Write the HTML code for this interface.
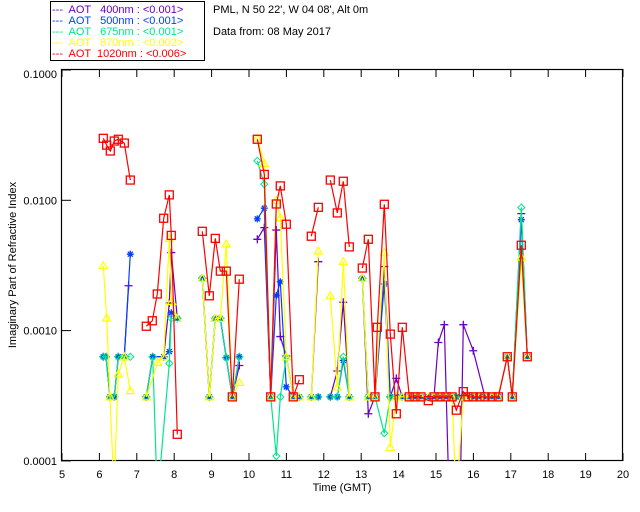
<!DOCTYPE html>
<html><head><meta charset="utf-8"><style>
html,body{margin:0;padding:0;background:#fff;}
svg{display:block;font-family:"Liberation Sans",sans-serif;}
</style></head><body>
<svg id="chart" width="640" height="512" viewBox="0 0 640 512">
<rect x="0" y="0" width="640" height="512" fill="#fff"/>
<g>
<rect x="50.5" y="1.5" width="154" height="59" fill="none" stroke="#000"/>
<text x="52" y="13" font-size="11" fill="#6a00c0" xml:space="preserve">---  AOT   400nm : &lt;0.001&gt;</text>
<text x="52" y="24" font-size="11" fill="#0040ff" xml:space="preserve">---  AOT   500nm : &lt;0.001&gt;</text>
<text x="52" y="35" font-size="11" fill="#00e68a" xml:space="preserve">---  AOT   675nm : &lt;0.001&gt;</text>
<text x="52" y="46" font-size="11" fill="#ffff00" xml:space="preserve">---  AOT   870nm : &lt;0.002&gt;</text>
<text x="52" y="57" font-size="11" fill="#ff0000" xml:space="preserve">---  AOT  1020nm : &lt;0.006&gt;</text>
</g>
<text x="213" y="13" font-size="11" fill="#000">PML, N 50 22', W 04 08', Alt 0m</text>
<text x="213" y="35" font-size="11" fill="#000">Data from: 08 May 2017</text>
<text transform="translate(16,265) rotate(-90)" text-anchor="middle" font-size="11" fill="#000">Imaginary Part of Refractive Index</text>
<text x="342" y="491" text-anchor="middle" font-size="11" fill="#000">Time (GMT)</text>
<g id="axes"></g>
<g id="series" clip-path="url(#clip)"></g>
<defs><clipPath id="clip"><rect x="61" y="69" width="562" height="392"/></clipPath></defs>
</svg>
<script>
const xTicks=[5,6,7,8,9,10,11,12,13,14,15,16,17,18,19,20];
const yTicks=[0.1,0.01,0.001,0.0001];
const yTickLabels=["0.1000","0.0100","0.0010","0.0001"];
const seriesNames=["400nm","500nm","675nm","870nm","1020nm"];
const flatT=[14.286,14.439,14.599,14.794,14.947,15.107,15.267,15.428,15.543,15.73,15.856,15.997,16.176,16.31,16.497,16.666];
const t400=[6.104,6.176,6.283,6.398,6.505,6.666,6.78,null,7.254,7.425,7.719,7.869,7.922,8.083,null,8.751,8.939,9.099,9.233,9.393,9.553,9.741,null,10.222,10.409,10.58,10.73,10.837,10.997,11.184,11.345,null,11.666,11.853,null,12.174,12.361,12.521,12.682,null,13.029,13.19,13.369,13.618,13.778,13.939,14.099,14.286,14.439,14.599,14.794,14.947,15.062,15.222,15.36,15.64,15.73,15.997,16.31,16.497,16.666,16.906,17.04,17.281,17.441];
const v400=[0.00063,0.00063,0.00031,0.00031,0.00063,0.00063,0.00221,null,0.00031,0.00063,0.00063,0.00163,0.00397,0.00124,null,0.00252,0.00031,0.00124,0.00124,0.00062,0.00031,0.00054,null,0.00502,0.00617,0.00031,0.00591,0.0009,0.00064,0.00031,0.00031,null,0.00031,0.00338,null,0.00031,0.00049,0.00165,0.00031,null,0.00252,0.00023,0.00031,0.0031,0.00031,0.00043,0.00031,0.00031,0.00031,0.00031,0.00031,0.00031,0.00081,0.00111,0.00004,0.00004,0.00111,0.0007,0.00031,0.00031,0.00031,0.00063,0.00031,0.0079,0.00063];
const t500=[6.104,6.176,6.283,6.398,6.505,6.666,6.826,null,7.254,7.425,7.719,7.869,7.922,8.083,null,8.751,8.939,9.099,9.233,9.393,9.553,9.741,null,10.222,10.409,10.58,10.73,10.837,10.997,11.184,11.345,null,11.666,11.853,null,12.174,12.361,12.521,12.682,null,13.029,13.19,13.369,13.618,13.778,13.939,14.099].concat(flatT,[16.906,17.04,17.281,17.441]);
const v500=[0.00063,0.00063,0.00031,0.00031,0.00063,0.00063,0.00386,null,0.00031,0.00063,0.00063,0.00069,0.00137,0.00124,null,0.00252,0.00031,0.00124,0.00124,0.00062,0.00031,0.00063,null,0.0072,0.0087,0.00031,0.00186,0.00237,0.00037,0.00031,0.00031,null,0.00031,0.00031,null,0.00031,0.00031,0.00059,0.00031,null,0.00252,0.00031,0.00031,0.00228,0.00031,0.00031,0.00031,0.00031,0.00031,0.00031,0.00031,0.00031,0.00031,0.00031,0.00031,0.00031,0.00031,0.00031,0.00031,0.00031,0.00031,0.00031,0.00031,0.00063,0.00031,0.0071,0.00063];
const t675=[6.104,6.176,6.283,6.398,6.505,6.666,6.826,null,7.254,7.425,7.55,7.869,7.922,8.083,null,8.751,8.939,9.099,9.233,9.393,9.553,9.741,null,10.222,10.409,10.58,10.73,10.837,10.997,11.184,11.345,null,11.666,11.853,null,12.174,12.361,12.521,12.682,null,13.029,13.19,13.369,13.618,13.778,13.939,14.099].concat(flatT,[16.906,17.04,17.281,17.441]);
const v675=[0.00063,0.00063,0.00031,0.00031,0.00063,0.00063,0.00063,null,0.00031,0.00063,0.00005,0.00056,0.00124,0.00124,null,0.00252,0.00031,0.00124,0.00124,0.00062,0.00031,0.00063,null,0.0201,0.0133,0.00031,0.000109,0.00031,0.00063,0.00031,0.00031,null,0.00031,0.00031,null,0.00031,0.00031,0.00063,0.00031,null,0.00252,0.00031,0.00031,0.000163,0.00031,0.00031,0.00031,0.00031,0.00031,0.00031,0.00031,0.00031,0.00031,0.00031,0.00031,0.00031,0.00031,0.00031,0.00031,0.00031,0.00031,0.00031,0.00031,0.00063,0.00031,0.0088,0.00063];
const t870=[6.104,6.195,6.283,6.39,6.505,6.666,6.826,null,7.254,7.559,7.719,7.869,7.933,8.067,null,8.751,8.939,9.099,9.233,9.393,9.553,9.741,null,10.222,10.409,10.58,10.73,10.837,10.997,11.184,11.345,null,11.666,11.853,null,12.174,12.361,12.521,12.682,null,13.029,13.19,13.369,13.618,13.778,13.939,14.099].concat(flatT,[16.906,17.04,17.281,17.441]);
const v870=[0.00315,0.00125,0.00031,0.00006,0.000465,0.00063,0.000346,null,0.00031,0.00057,0.00063,0.0051,0.00167,0.00124,null,0.00252,0.00031,0.00124,0.00124,0.00462,0.00031,0.0004,null,0.0299,0.0192,0.00031,0.01,0.00736,0.00063,0.00031,0.00031,null,0.00031,0.00408,null,0.00185,0.00037,0.00338,0.00031,null,0.00252,0.00031,0.00031,0.00397,0.000127,0.00031,0.00031,0.00031,0.00031,0.00031,0.00031,0.00031,0.00031,0.00031,0.00031,0.00005,0.00031,0.00031,0.00031,0.00031,0.00031,0.00031,0.00031,0.00063,0.00031,0.00366,0.00063];
const t1020=[6.104,6.195,6.291,6.398,6.505,6.666,6.826,null,7.254,7.414,7.548,7.719,7.869,7.922,8.083,null,8.751,8.939,9.099,9.233,9.393,9.553,9.741,null,10.222,10.409,10.58,10.73,10.837,10.997,11.184,11.345,null,11.666,11.853,null,12.174,12.361,12.521,12.682,null,13.029,13.19,13.369,13.43,13.618,13.778,13.939,14.099].concat(flatT,[16.906,17.04,17.281,17.441]);
const v1020=[0.0299,0.0265,0.0239,0.0285,0.0294,0.0275,0.0143,null,0.00108,0.00119,0.00191,0.00728,0.011,0.00538,0.00016,null,0.00578,0.00185,0.0051,0.00286,0.00286,0.00031,0.00248,null,0.0294,0.0158,0.00031,0.00937,0.0129,0.00655,0.00031,0.00042,null,0.0053,0.00883,null,0.0143,0.008,0.014,0.00439,null,0.00302,0.00502,0.00031,0.00106,0.00932,0.00094,0.00023,0.00106,0.00031,0.00031,0.00031,0.00029,0.00031,0.00031,0.00031,0.00031,0.000245,0.00034,0.00031,0.00031,0.00031,0.00031,0.00031,0.00031,0.00063,0.00031,0.00452,0.00063];

const X0=62,XS=37.4,Y0=70,DEC=130.3;
function xs(t){return X0+(t-5)*XS;}
function ys(v){return Y0-(Math.log10(v)+1)*DEC;}
const NS="http://www.w3.org/2000/svg";
function mk(tag,attrs,parent){const e=document.createElementNS(NS,tag);for(const k in attrs)e.setAttribute(k,attrs[k]);parent.appendChild(e);return e;}
const axes=document.getElementById('axes');
let frame=mk('rect',{x:61.5,y:69.5,width:561,height:391,fill:'none',stroke:'#000','stroke-width':1.2},axes);


xTicks.forEach(function(t){
  const x=xs(t);
  let l=mk('line',{x1:x,x2:x,y1:461,y2:453,stroke:'#000'},axes);
  
  
  let l2=mk('line',{x1:x,x2:x,y1:69,y2:77,stroke:'#000'},axes);
  
  
  let tx=mk('text',{x:x,y:478,'text-anchor':'middle','font-size':11,fill:'#000'},axes);
  tx.textContent=String(t);
  
  
});
yTicks.forEach(function(v,i){
  const y=ys(v);
  let l=mk('line',{x1:61,x2:71,y1:y,y2:y,stroke:'#000'},axes);
  
  
  let tx=mk('text',{x:57,y:(i==0?y+8:y+4),'text-anchor':'end','font-size':11,fill:'#000'},axes);
  tx.textContent=yTickLabels[i];
  
  
});
const sg=document.getElementById('series');
const S=[[t400,v400,'#6a00c0','plus'],[t500,v500,'#0040ff','star'],[t675,v675,'#00e68a','diamond'],[t870,v870,'#ffff00','tri'],[t1020,v1020,'#ff0000','square']];
S.forEach(function(s,si){
  const g=mk('g',{},sg);
  
  
  const T=s[0],V=s[1],c=s[2];
  let d='',pen=false;
  for(let i=0;i<T.length;i++){
    if(T[i]===null||V[i]===null){pen=false;continue;}
    const x=xs(T[i]),y=Math.min(ys(V[i]),700);
    d+=(pen?'L':'M')+x.toFixed(1)+' '+y.toFixed(1);pen=true;
  }
  const p=mk('path',{d:d,fill:'none',stroke:c,'stroke-width':1.2},g);
  
  
  for(let i=0;i<T.length;i++){
    if(T[i]===null||V[i]===null)continue;
    if(V[i]<0.0001)continue;
    const x=xs(T[i]),y=ys(V[i]);let m;
    if(s[3]=='plus')m=mk('path',{d:`M${x-4} ${y}H${x+4}M${x} ${y-4}V${y+4}`,stroke:c,'stroke-width':1.3,fill:'none'},g);
    else if(s[3]=='star')m=mk('path',{d:`M${x-3.5} ${y}H${x+3.5}M${x} ${y-3.5}V${y+3.5}M${x-2.5} ${y-2.5}L${x+2.5} ${y+2.5}M${x-2.5} ${y+2.5}L${x+2.5} ${y-2.5}`,stroke:c,'stroke-width':1.3,fill:'none'},g);
    else if(s[3]=='diamond')m=mk('path',{d:`M${x} ${y-3.5}L${x+3.5} ${y}L${x} ${y+3.5}L${x-3.5} ${y}Z`,stroke:c,'stroke-width':1,fill:'none'},g);
    else if(s[3]=='tri')m=mk('path',{d:`M${x} ${y-4}L${x+4} ${y+3}L${x-4} ${y+3}Z`,stroke:c,'stroke-width':1.2,fill:'none'},g);
    else m=mk('rect',{x:x-4,y:y-4,width:8,height:8,stroke:c,'stroke-width':1.3,fill:'none'},g);
    
    
  }
});
</script>
</body></html>
